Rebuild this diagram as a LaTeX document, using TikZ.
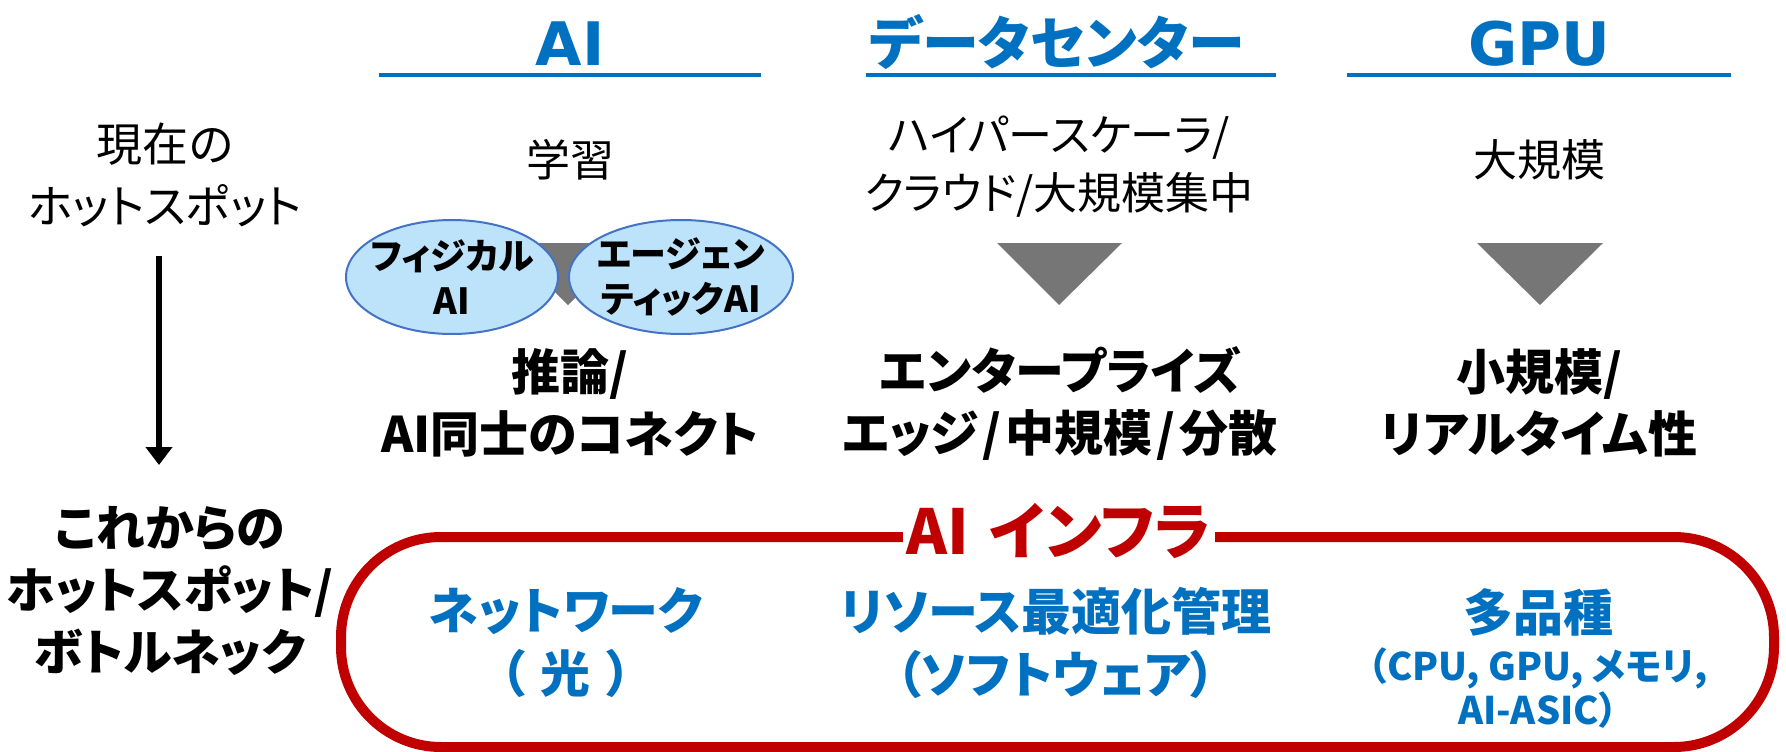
\documentclass[tikz,border=0pt]{standalone}
\usepackage{fontspec}
\newfontfamily\jp[RawFeature=+palt]{Noto Sans CJK JP}
\newfontfamily\lat{DejaVu Sans}
\usetikzlibrary{shapes.geometric,arrows.meta}
\definecolor{hblue}{HTML}{0070C0}
\definecolor{ired}{HTML}{C00000}
\definecolor{trigray}{HTML}{767676}
\definecolor{ellfill}{HTML}{BDE3FA}
\definecolor{ellline}{HTML}{4472C4}
\tikzset{
  hdr/.style={inner sep=0pt, text=hblue, font=\jp\bfseries\fontsize{57}{70}\selectfont},
  hdrl/.style={inner sep=0pt, text=hblue, font=\lat\bfseries\fontsize{60}{72}\selectfont},
  hline/.style={draw=hblue, line width=3.4pt},
  reg/.style={inner sep=0pt, align=center, font=\jp\fontsize{44}{58}\selectfont},
  regl/.style={inner sep=0pt, align=center, font=\jp\fontsize{46}{62}\selectfont},
  bld/.style={inner sep=0pt, align=center, font=\jp\bfseries\fontsize{49}{62}\selectfont},
  ellbox/.style={ellipse, draw=ellline, fill=ellfill, line width=2pt, inner sep=0pt},
  elltxt/.style={align=center, font=\jp\bfseries\fontsize{36}{45}\selectfont},
  tri/.style={fill=trigray},
  btm/.style={inner sep=0pt, align=center, text=hblue, font=\jp\bfseries\fontsize{50}{63}\selectfont},
  btms/.style={inner sep=0pt, align=center, text=hblue, font=\jp\bfseries\fontsize{38}{44}\selectfont},
}
\begin{document}
\begin{tikzpicture}[x=1pt,y=-1pt]
\useasboundingbox (0,0) rectangle (1786,752);
% headers
\node[hdrl] (hAI) at (570,44) {AI};
\node[hdr] (hDC) at (1057,42) {データセンター};
\node[hdrl] (hGPU) at (1539,44) {GPU};
\draw[hline] (379,75) -- (761,75);
\draw[hline] (866,75) -- (1276,75);
\draw[hline] (1347,75) -- (1731,75);
% left column
\node[regl] (cur) at (165,175) {現在の\\ホットスポット};
\node[bld] (fut) at (170,591) {これからの\\ホットスポット/\\ボトルネック};
\coordinate (arrS) at (159,256);
\coordinate (arrE) at (159,465);
\draw[line width=6pt, -{Triangle[length=18pt,width=26pt]}] (arrS) -- (arrE);
% AI column
\node[reg] (learn) at (570,160) {学習};
\fill[tri] (505,243) -- (631,243) -- (568,305) -- cycle;
\node[ellbox, minimum width=212pt, minimum height=114pt] (phys) at (452,277) {};
\node[ellbox, minimum width=224pt, minimum height=114pt] (agent) at (681,277) {};
\node[elltxt] at (phys) {フィジカル\\AI};
\node[elltxt] at (agent) {エージェン\\ティックAI};
\node[bld] (infer) at (570,403) {推論/\\AI同士のコネクト};
% DC column
\node[reg] (hyper) at (1059,167) {ハイパースケーラ/\\クラウド/大規模集中};
\fill[tri] (997,243) -- (1122,243) -- (1059,305) -- cycle;
\node[bld] (ent) at (1060,403) {エンタープライズ\\エッジ\hspace{4pt}/\hspace{4pt}中規模\hspace{4pt}/\hspace{4pt}分散};
% GPU column
\node[reg] (large) at (1539,160) {大規模};
\fill[tri] (1477,243) -- (1603,243) -- (1540,305) -- cycle;
\node[bld] (small) at (1539,403) {小規模/\\リアルタイム性};
% AI infra box
\draw[ired, line width=10pt, rounded corners=100pt] (341,537) rectangle (1774,747);
\node[fill=white, inner sep=4pt, text=ired, font=\jp\bfseries\fontsize{62}{70}\selectfont] (infra) at (1059,531) {AI\hspace{6pt} インフラ};
\node[btm] (net) at (566,643) {ネットワーク\\（\hspace{16pt}光\hspace{16pt}）};
\node[btm] (res) at (1056,643) {リソース最適化管理\\（ソフトウェア）};
\node[btm] (multi) at (1538,612) {多品種};
\node[btms] (kinds) at (1538,688) {（CPU, GPU, メモリ,\\AI-ASIC）};
\end{tikzpicture}
\end{document}
